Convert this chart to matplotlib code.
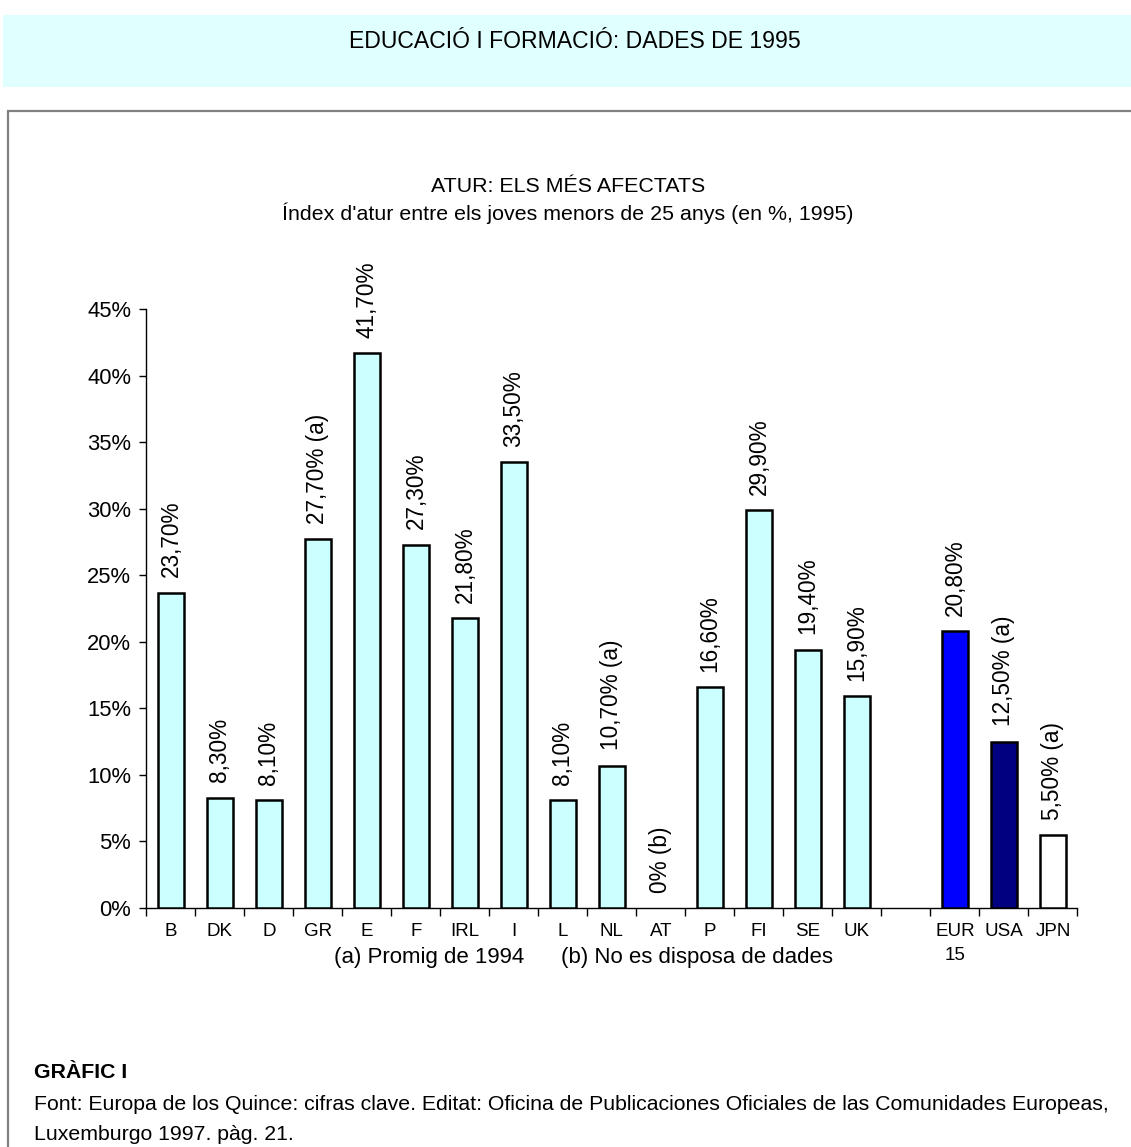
import matplotlib
matplotlib.use("Agg")
import matplotlib.pyplot as plt
from matplotlib.patches import Rectangle

plt.rcParams['font.family'] = ['Liberation Sans', 'DejaVu Sans']

W, H = 1131, 1147

categories = ['B', 'DK', 'D', 'GR', 'E', 'F', 'IRL', 'I', 'L', 'NL', 'AT', 'P', 'FI', 'SE', 'UK',
              '', 'EUR\n15', 'USA', 'JPN']
values = [23.7, 8.3, 8.1, 27.7, 41.7, 27.3, 21.8, 33.5, 8.1, 10.7, 0.0, 16.6, 29.9, 19.4, 15.9,
          None, 20.8, 12.5, 5.5]
value_labels = ['23,70%', '8,30%', '8,10%', '27,70% (a)', '41,70%', '27,30%', '21,80%', '33,50%',
                '8,10%', '10,70% (a)', '0% (b)', '16,60%', '29,90%', '19,40%', '15,90%', '',
                '20,80%', '12,50% (a)', '5,50% (a)']
bar_colors = ['#CCFFFF'] * 15 + ['none', '#0000FF', '#000080', '#FFFFFF']
yticks = [0, 5, 10, 15, 20, 25, 30, 35, 40, 45]
ytick_labels = ['0%', '5%', '10%', '15%', '20%', '25%', '30%', '35%', '40%', '45%']

fig = plt.figure(figsize=(W / 100, H / 100), dpi=100)


def fx(px):
    return px / W


def fy(py):
    return 1 - py / H


# Top banner
fig.patches.append(Rectangle((fx(3), fy(87)), fx(W) - fx(3) + 0.01, fy(15) - fy(87),
                             transform=fig.transFigure, facecolor='#E0FFFF', edgecolor='none', zorder=0))
fig.text(fx(575), fy(42), 'EDUCACIÓ I FORMACIÓ: DADES DE 1995', ha='center', va='center',
         fontsize=16.6)

# Outer box
fig.patches.append(Rectangle((fx(8), fy(H + 20)), fx(W + 20) - fx(8), fy(111) - fy(H + 20),
                             transform=fig.transFigure, facecolor='none', edgecolor='#808080',
                             linewidth=1.6, zorder=1))

# Chart titles
fig.text(fx(568), fy(187), 'ATUR: ELS MÉS AFECTATS', ha='center', va='center', fontsize=15.4)
fig.text(fx(568), fy(213), "Índex d'atur entre els joves menors de 25 anys (en %, 1995)",
         ha='center', va='center', fontsize=15.4)

# Axes
left, right = 146.4, 1077.4
top, bottom = 309, 908
ax = fig.add_axes([fx(left), fy(bottom), fx(right) - fx(left), fy(top) - fy(bottom)])
ax.set_xlim(-0.5, len(categories) - 0.5)
ax.set_ylim(0, 45)
for s in ['top', 'right']:
    ax.spines[s].set_visible(False)
for s in ['left', 'bottom']:
    ax.spines[s].set_linewidth(1.0)
    ax.spines[s].set_color('black')

xs = list(range(len(categories)))
for x, v, c, lab in zip(xs, values, bar_colors, value_labels):
    if v is None:
        continue
    if v > 0:
        ax.bar(x, v, width=0.52, color=c, edgecolor='black', linewidth=1.8, zorder=3)
    if lab:
        ax.annotate(lab, (x, v), xytext=(0, 11), textcoords='offset points', rotation=90,
                    ha='center', va='bottom', fontsize=16.3)

ax.set_yticks(yticks)
ax.set_yticklabels(ytick_labels, fontsize=15.8)
ax.tick_params(axis='y', direction='out', length=5, width=1, pad=6)

ax.set_xticks([i - 0.5 for i in range(len(categories) + 1)])
ax.set_xticklabels([])
ax.tick_params(axis='x', which='major', direction='out', length=6, width=1)
ax.set_xticks(xs, minor=True)
ax.set_xticklabels(categories, minor=True, fontsize=13.5, linespacing=1.5)
ax.tick_params(axis='x', which='minor', length=0, pad=11)

# Footnote under axis
fig.text(fx(584), fy(958), '(a) Promig de 1994      (b) No es disposa de dades',
         ha='center', va='center', fontsize=16)

# Footer
fig.text(fx(34), fy(1073), 'GRÀFIC I', ha='left', va='center', fontsize=15.3, fontweight='bold')
fig.text(fx(34), fy(1104),
         'Font: Europa de los Quince: cifras clave. Editat: Oficina de Publicaciones Oficiales de las Comunidades Europeas,',
         ha='left', va='center', fontsize=15.3)
fig.text(fx(34), fy(1134), 'Luxemburgo 1997. pàg. 21.', ha='left', va='center', fontsize=15.3)

fig.savefig('out.png', dpi=100)
